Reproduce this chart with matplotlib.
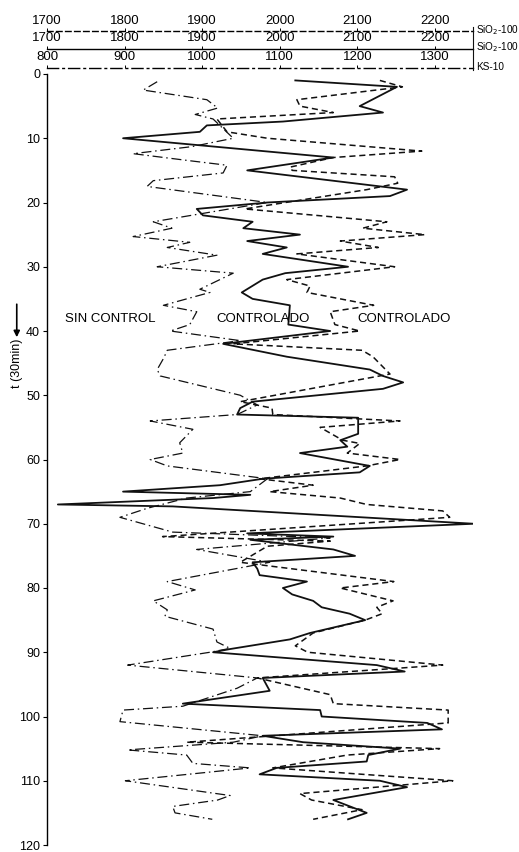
import matplotlib.pyplot as plt
from matplotlib.lines import Line2D

plt.rcParams["font.family"] = ["Liberation Sans Narrow", "Liberation Sans", "DejaVu Sans"]

# t axis in units of 30 min
solid_t = [1, 2, 5, 6, 7.4, 8, 9, 10, 13, 15, 18, 19, 20, 21, 22, 23, 24, 25, 26, 27, 28,
           30, 31, 32, 34, 35, 36, 39, 40, 42, 44, 46, 47, 48, 49, 51, 52, 53, 53.5, 56,
           57, 58, 59, 61, 62, 63, 64, 65, 65.5, 66, 67, 67.3, 70, 71.5, 72, 72.5, 74, 75,
           76, 77, 78, 79, 80, 81, 82, 83, 84, 85, 87, 88, 89.5, 90, 92, 93, 94, 96, 98,
           98.2, 99, 100, 101, 102, 103, 104, 105, 106, 107, 108, 109, 110, 111, 113, 115, 116]
solid_sio2 = [2020, 2151, 2103, 2133, 2004, 1906, 1897, 1798, 2069, 1958, 2164, 2142, 1984,
              1893, 1901, 1965, 1953, 2026, 1958, 2009, 1978, 2088, 2007, 1978, 1951, 1965,
              2013, 2011, 2065, 1927, 2009, 2116, 2133, 2159, 2133, 1965, 1949, 1945, 2101,
              2101, 2078, 2087, 2026, 2116, 2103, 1978, 1923, 1798, 1962, 1914, 1714, 1862,
              2250, 1958, 2069, 1962, 2069, 2097, 1965, 1971, 1974, 2035, 2004, 2016, 2043,
              2054, 2090, 2110, 2039, 2013, 1936, 1914, 2125, 2161, 1978, 1987, 1875, 1910,
              2052, 2054, 2190, 2209, 1978, 2030, 2155, 2114, 2112, 1996, 1974, 2129, 2164,
              2069, 2112, 2088]

dashed_t = [1, 2, 4, 5, 6, 7, 9, 10, 12, 13, 14.5, 15, 16, 17, 18, 21, 23, 24, 25, 26, 27,
            28, 30, 32, 33, 34, 36, 37, 39, 40, 42, 43, 44, 46.7, 51, 52, 53, 54, 55, 57,
            57.5, 59, 60, 61, 63, 64, 65, 66, 67, 68, 69, 72, 72.7, 73.5, 76, 79, 80, 82,
            83, 84, 85, 87, 89, 90, 92, 94, 96.6, 98, 99, 101, 104, 105, 106, 108, 110,
            112, 113, 114.5, 116]
dashed_sio2 = [2129, 2158, 2022, 2026, 2069, 1919, 1932, 1984, 2183, 2069, 2013, 2016, 2148,
               2152, 2112, 1955, 2138, 2107, 2187, 2078, 2127, 2022, 2148, 2009, 2039, 2035,
               2121, 2065, 2071, 2103, 1940, 2106, 2120, 2142, 1949, 1990, 1991, 2155, 2052,
               2081, 2103, 2087, 2155, 2112, 1974, 2043, 1987, 2078, 2112, 2210, 2219, 1849,
               2065, 1984, 1949, 2147, 2078, 2146, 2125, 2132, 2110, 2043, 2020, 2036, 2210,
               1971, 2065, 2069, 2217, 2217, 1880, 2206, 2087, 1991, 2223, 2026, 2041, 2106,
               2043]

ks_t = [1.2, 2.5, 4, 5.3, 6.3, 7, 8.5, 10, 11.3, 12.4, 13.5, 14.2, 15.4, 16.6, 17.5, 20,
        23, 24, 25.3, 26.2, 27, 28.2, 30, 31, 33.5, 34, 36, 37, 39, 40, 41.5, 43, 44.3, 46,
        47, 50, 51.5, 53, 54, 55.3, 57.4, 59, 60, 61, 63, 65, 66, 67.6, 69, 71.3, 72.2, 74,
        76, 79, 80.3, 82, 83.4, 84.4, 86.4, 88.4, 89.4, 90, 92, 94, 95.6, 98.4, 99, 100.8,
        103, 104, 105.2, 106, 107.3, 108, 110, 112.3, 113, 114, 115, 116]
ks_vals = [942, 924, 1006, 1020, 991, 1014, 1027, 1040, 987, 911, 984, 1032, 1027, 937, 929,
           1084, 937, 961, 911, 984, 955, 1019, 942, 1040, 997, 1010, 950, 993, 984, 959,
           1049, 955, 950, 942, 946, 1049, 1071, 1045, 933, 988, 971, 975, 933, 955, 1084,
           1062, 980, 929, 894, 962, 1165, 993, 1087, 955, 991, 937, 955, 952, 1014, 1019,
           1036, 1010, 904, 1071, 1045, 975, 898, 894, 1078, 1040, 904, 980, 988, 1062, 901,
           1036, 1020, 962, 965, 1013]

sio2_ticks = [1700, 1800, 1900, 2000, 2100, 2200]
ks_ticks = [800, 900, 1000, 1100, 1200, 1300]
t_ticks = list(range(0, 130, 10))

W, H = 519, 852
fig = plt.figure(figsize=(W / 100, H / 100), dpi=100)
left, width = 47 / W, 426 / W

ax = fig.add_axes([left, 7 / H, width, 771 / H])
ax.set_xlim(1700, 2249)
ax.set_ylim(120, 0)
for s in ["top", "right", "bottom"]:
    ax.spines[s].set_visible(False)
ax.spines["left"].set_linewidth(1.0)
ax.set_xticks([])
ax.set_yticks(t_ticks)
ax.tick_params(axis="y", direction="out", length=3, width=0.8, labelsize=9, pad=2)

ax_ks = ax.twiny()
ax_ks.set_xlim(800, 1349)
ax_ks.axis("off")

ax.plot(solid_sio2, solid_t, color="#111", lw=1.3, ls="-")
ax.plot(dashed_sio2, dashed_t, color="#111", lw=1.1, ls=(0, (4, 2.5)))
ax_ks.plot(ks_vals, ks_t, color="#111", lw=0.9, ls=(0, (8, 3, 1.2, 3)))

ax.text(1782, 38.2, "SIN CONTROL", ha="center", va="center", fontsize=9.5,
        family=["Liberation Sans", "DejaVu Sans"])
ax.text(1978, 38.2, "CONTROLADO", ha="center", va="center", fontsize=9.5,
        family=["Liberation Sans", "DejaVu Sans"])
ax.text(2160, 38.2, "CONTROLADO", ha="center", va="center", fontsize=9.5,
        family=["Liberation Sans", "DejaVu Sans"])

ax.text(-0.071, 0.625, "t (30min)", rotation=90, ha="center", va="center",
        fontsize=9, transform=ax.transAxes)
ax.annotate("", xy=(-0.071, 0.655), xytext=(-0.071, 0.705), xycoords="axes fraction",
            arrowprops=dict(arrowstyle="-|>", color="k", lw=1.2, mutation_scale=9))

# three stacked scales at the top
scales = [
    (31.5, (0, (4, 2.5)), 1700, sio2_ticks, "SiO$_2$-100"),
    (49, "-", 1700, sio2_ticks, "SiO$_2$-100"),
    (68, (0, (8, 3, 1.2, 3)), 800, ks_ticks, "KS-10"),
]
for py, ls, x0, ticks, name in scales:
    hx = fig.add_axes([left, 1 - py / H, width, 0.0001])
    hx.set_xlim(x0, x0 + 549)
    hx.set_yticks([])
    for s in ["left", "right", "bottom"]:
        hx.spines[s].set_visible(False)
    hx.spines["top"].set_linestyle(ls)
    hx.spines["top"].set_linewidth(1.0)
    hx.xaxis.tick_top()
    hx.set_xticks(ticks)
    hx.tick_params(axis="x", direction="out", length=2, width=0.7, labelsize=9.5, pad=1.5)
    hx.patch.set_visible(False)
    fig.text(476 / W, 1 - (py - 1.5) / H, name, ha="left", va="center", fontsize=7.2)

fig.add_artist(Line2D([473 / W, 473 / W], [1 - 27 / H, 1 - 70 / H], color="#111", lw=0.8))

fig.savefig("out.png", dpi=100)
